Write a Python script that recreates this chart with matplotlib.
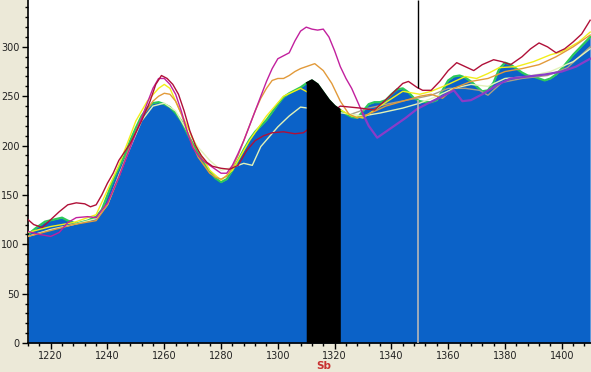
import matplotlib
matplotlib.use("Agg")
import matplotlib.pyplot as plt
from matplotlib.ticker import MultipleLocator

# spectrum envelope (blue fill)
fill_x = [1212, 1215, 1218, 1221, 1224, 1226, 1229, 1233, 1236, 1238, 1240, 1242, 1244, 1246,
          1248, 1250, 1252, 1254, 1256, 1258, 1260, 1262, 1264, 1266, 1268, 1270, 1272, 1274,
          1276, 1278, 1280, 1282, 1284, 1286, 1288, 1290, 1292, 1294, 1296, 1298, 1300, 1302,
          1304, 1306, 1308, 1310, 1312, 1314, 1316, 1318, 1320, 1322, 1324, 1326, 1328, 1330,
          1332, 1334, 1336, 1338, 1340, 1342, 1344, 1346, 1348, 1350, 1352, 1354, 1356, 1358,
          1360, 1362, 1364, 1366, 1368, 1370, 1372, 1374, 1376, 1378, 1380, 1382, 1384, 1386,
          1388, 1390, 1392, 1394, 1396, 1398, 1400, 1402, 1404, 1406, 1408, 1410]
fill_y = [110, 117, 123, 125, 127, 124, 121, 124, 128, 135, 150, 165, 178, 190,
          205, 218, 230, 238, 243, 244, 242, 239, 233, 225, 213, 202, 192, 183,
          174, 167, 163, 166, 175, 185, 196, 206, 214, 220, 226, 234, 242, 249,
          253, 256, 259, 263, 266, 262, 254, 246, 240, 236, 232, 229, 228, 235,
          242, 244, 244, 246, 252, 257, 258, 254, 248, 245, 244, 244, 246, 256,
          266, 270, 271, 269, 265, 260, 255, 256, 264, 278, 284, 282, 278, 274,
          271, 270, 268, 266, 268, 272, 278, 285, 292, 298, 304, 310]

peak_lo, peak_hi = 1310, 1322
peak_name = "Sb"
cursor_x = 1349.5

crimson_x = [1212, 1214, 1217, 1220, 1223, 1226, 1229, 1232, 1234, 1236, 1238, 1240, 1242, 1244,
             1248, 1252, 1255, 1257, 1259, 1261, 1263, 1265, 1267, 1269, 1271, 1273, 1275, 1277,
             1280, 1283, 1286, 1289, 1292, 1295, 1298, 1302, 1306, 1309, 1322, 1329, 1334, 1339,
             1344, 1346, 1349, 1351, 1354, 1357, 1360, 1363, 1366, 1369, 1372, 1376, 1379, 1382,
             1386, 1389, 1392, 1395, 1398, 1401, 1404, 1407, 1410]
crimson_y = [125, 120, 117, 125, 133, 140, 142, 141, 138, 140, 150, 162, 172, 185,
             202, 225, 245, 262, 271, 268, 262, 252, 235, 215, 200, 190, 183, 179,
             177, 176, 180, 195, 205, 210, 213, 214, 212, 213, 240, 238, 236, 249,
             263, 265, 259, 256, 256, 265, 276, 284, 280, 276, 282, 287, 285, 282,
             290, 298, 304, 300, 294, 298, 305, 313, 327]

magenta_x = [1212, 1216, 1220, 1223, 1226, 1229, 1233, 1236, 1240, 1244, 1248, 1252, 1256, 1258,
             1260, 1262, 1264, 1266, 1268, 1270, 1272, 1274, 1276, 1278, 1280, 1282, 1284, 1286,
             1288, 1290, 1292, 1294, 1296, 1298, 1300, 1302, 1304, 1306, 1308, 1310, 1312, 1314,
             1316, 1318, 1320, 1322, 1324, 1326, 1328, 1330]
magenta_y = [113, 110, 108, 112, 122, 127, 128, 127, 142, 168, 198, 228, 258, 268,
             268, 262, 252, 235, 215, 198, 190, 184, 180, 176, 172, 172, 180, 192,
             205, 220, 235, 250, 265, 278, 288, 291, 294, 306, 316, 320, 318, 317,
             318, 310, 296, 280, 268, 258, 245, 232]

purple_x = [1330, 1332, 1335, 1340, 1345, 1349, 1353, 1358, 1362, 1365, 1368, 1372, 1377, 1382,
            1388, 1394, 1400, 1405, 1410]
purple_y = [232, 220, 208, 218, 228, 237, 243, 250, 256, 245, 246, 252, 261, 268,
            270, 272, 275, 280, 288]

orange_x = [1212, 1220, 1228, 1236, 1240, 1244, 1248, 1252, 1256, 1258, 1260, 1262, 1264, 1266,
            1268, 1270, 1272, 1274, 1276, 1278, 1280, 1282, 1284, 1286, 1288, 1290, 1292, 1294,
            1296, 1298, 1300, 1302, 1304, 1306, 1308, 1310, 1313, 1316, 1319, 1322, 1325, 1328,
            1332, 1338, 1344, 1350, 1354, 1358, 1362, 1368, 1374, 1380, 1386, 1392, 1398, 1404, 1410]
orange_y = [108, 114, 120, 124, 140, 168, 200, 228, 245, 250, 253, 252, 245, 232,
            215, 200, 188, 180, 172, 168, 166, 169, 178, 190, 205, 220, 235, 248,
            258, 266, 268, 268, 271, 275, 278, 280, 283, 276, 263, 245, 232, 228,
            232, 240, 245, 250, 252, 248, 258, 265, 268, 275, 278, 282, 290, 300, 312]

yellow_x = [1212, 1220, 1228, 1236, 1244, 1250, 1254, 1258, 1260, 1262, 1264, 1268, 1272, 1276,
            1280, 1284, 1290, 1296, 1302, 1308, 1326, 1330, 1336, 1344, 1350, 1354, 1360, 1366,
            1370, 1374, 1378, 1384, 1390, 1396, 1400, 1406, 1410]
yellow_y = [112, 118, 122, 130, 180, 225, 245, 258, 262, 258, 245, 220, 195, 175,
            165, 175, 205, 230, 250, 258, 230, 228, 240, 255, 252, 255, 262, 270,
            268, 273, 279, 280, 285, 292, 295, 305, 315]

pale_x = [1212, 1220, 1228, 1236, 1240, 1244, 1248, 1252, 1256, 1260, 1264, 1268, 1272, 1276,
          1280, 1284, 1288, 1291, 1294, 1300, 1304, 1308, 1330, 1336, 1344, 1350, 1356, 1362,
          1368, 1374, 1380, 1388, 1396, 1404, 1410]
pale_y = [108, 115, 120, 126, 140, 170, 198, 225, 240, 243, 235, 215, 198, 185,
          175, 178, 182, 180, 199, 219, 230, 239, 230, 233, 238, 243, 250, 258,
          262, 260, 268, 270, 275, 285, 298]

gray_x = [1326, 1332, 1340, 1349, 1354, 1360, 1366, 1371, 1374, 1379, 1386, 1395, 1402, 1410]
gray_y = [232, 238, 243, 248, 251, 258, 258, 256, 251, 264, 268, 271, 279, 300]

fig = plt.figure(figsize=(5.91, 3.72), dpi=100)
fig.patch.set_facecolor("#ECE9D8")
ax = fig.add_axes([28 / 591, 29 / 372, 1 - 28 / 591, 1 - 29 / 372])
ax.set_facecolor("white")

ax.fill_between(fill_x, 0, fill_y, color="#0B62C8", lw=0, zorder=1)
ax.plot(fill_x, fill_y, color="#2CC85A", lw=1.6, zorder=2)

# highlighted peak region
in_peak = [peak_lo <= x <= peak_hi for x in fill_x]
ax.fill_between(fill_x, 0, fill_y, where=in_peak, color="black", lw=0, zorder=6)
pk_x = [x for x in fill_x if peak_lo <= x <= peak_hi]
pk_y = [y for x, y in zip(fill_x, fill_y) if peak_lo <= x <= peak_hi]
ax.plot(pk_x, pk_y, color="black", lw=1.6, zorder=6, solid_capstyle="butt")

ax.plot(gray_x, gray_y, color="#A89F88", lw=1, zorder=3)
ax.plot(pale_x, pale_y, color="#E2F2B8", lw=1, zorder=3)
ax.plot(yellow_x, yellow_y, color="#F2EE1A", lw=1, zorder=3)
ax.plot(orange_x, orange_y, color="#E29A3A", lw=1, zorder=4)
ax.plot(purple_x, purple_y, color="#8A3CC8", lw=1.6, zorder=4)
ax.plot(magenta_x, magenta_y, color="#C2209E", lw=1, zorder=4)
ax.plot(crimson_x, crimson_y, color="#B01038", lw=1, zorder=5)

# cursor
ax.vlines(cursor_x, 258, 348, color="black", lw=1, zorder=7)
ax.vlines(cursor_x, 0, 246, color="#B8B8B8", lw=1.2, zorder=7)

ax.set_xlim(1212, 1410.3)
ax.set_ylim(0, 347.5)
ax.xaxis.set_major_locator(MultipleLocator(20))
ax.xaxis.set_minor_locator(MultipleLocator(4))
ax.yaxis.set_major_locator(MultipleLocator(50))
ax.yaxis.set_minor_locator(MultipleLocator(10))
ax.tick_params(which="major", length=4, width=1, labelsize=7, colors="black",
               labelcolor="#222222", pad=2)
ax.tick_params(which="minor", length=2.5, width=1)
for s in ["top", "right"]:
    ax.spines[s].set_visible(False)
ax.spines["left"].set_linewidth(1.2)
ax.spines["bottom"].set_linewidth(1.2)

ax.text((peak_lo + peak_hi) / 2, -23, peak_name, color="#C83030", fontsize=7.5,
        fontweight="bold", ha="center", va="center", clip_on=False)

fig.savefig("out.png", dpi=100, facecolor=fig.get_facecolor())
